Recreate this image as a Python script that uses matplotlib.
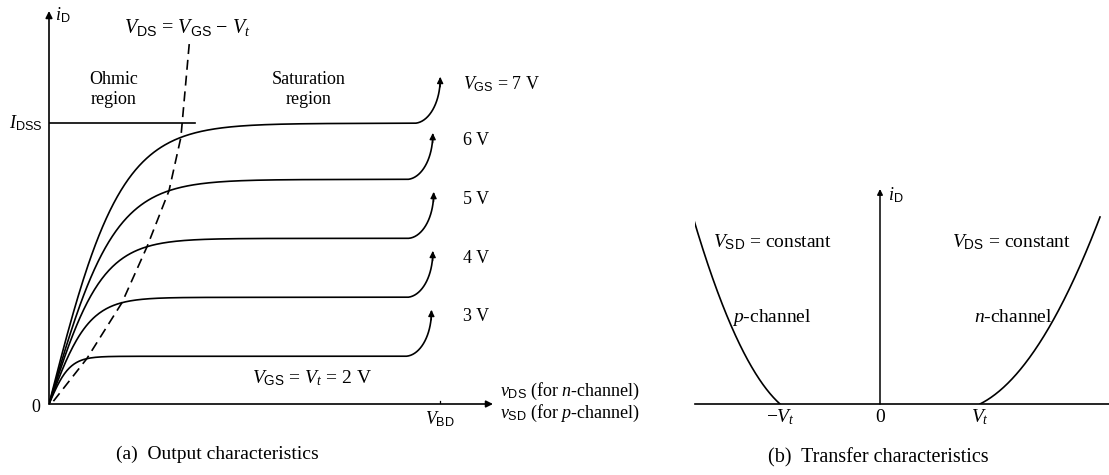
import numpy as np
import matplotlib
matplotlib.use("Agg")
import matplotlib.pyplot as plt

plt.rcParams['font.family'] = ['Liberation Serif', 'DejaVu Serif']
plt.rcParams['mathtext.fontset'] = 'custom'
plt.rcParams['mathtext.rm'] = 'Liberation Serif'
plt.rcParams['mathtext.it'] = 'Liberation Serif:italic'
plt.rcParams['mathtext.sf'] = 'Liberation Sans'

# output characteristics (i_D relative to I_DSS, v_DS in arbitrary units)
vgs = [3, 4, 5, 6, 7]
i_sat = [0.17, 0.38, 0.59, 0.80, 1.00]
v_pinch = [0.86, 1.66, 2.23, 2.73, 3.00]     # where each curve meets the dashed locus
v_tip = [8.70, 8.73, 8.75, 8.73, 8.90]        # end of the breakdown upturn
bd_rise = 0.16
bd_width = 0.6
v_bd = 8.9
locus_top = (3.2, 1.30)

# transfer characteristics
vt = 1.0
n_span, p_span = 1.2, 0.87     # how far past threshold each curve is drawn
i_top = 1.87
n_lin, p_lin = 0.5, 0.9        # slope at threshold

fs = 13
fl = 14
fig = plt.figure(figsize=(11.09, 4.75), dpi=100)

# ---------------- (a) output characteristics ----------------
ax = fig.add_axes([49 / 1109, 71 / 475, 444 / 1109, 393 / 475])
ax.set_xlim(0, 10.1)
ax.set_ylim(0, 1.4)
ax.axis('off')

arrow = dict(arrowstyle='-|>', color='k', lw=1.2, mutation_scale=10, shrinkA=0, shrinkB=0)
ax.annotate('', xy=(1, 0), xytext=(0, 0), xycoords='axes fraction', arrowprops=arrow)
ax.annotate('', xy=(0, 1), xytext=(0, 0), xycoords='axes fraction', arrowprops=arrow)

locus_x = [0.1]
locus_y = [0.01]
for k in range(len(vgs)):
    isat = i_sat[k]
    tau = v_pinch[k] / 1.83
    v0 = v_tip[k] - bd_width
    v = np.linspace(0, v0, 300)
    i = isat * np.tanh(v / tau)
    th = np.linspace(0, np.pi / 2, 60)
    vu = v0 + bd_width * np.sin(th)
    iu = isat * np.tanh(vu / tau) + bd_rise * (1 - np.cos(th))
    ax.plot(np.r_[v, vu], np.r_[i, iu], color='k', lw=1.2, solid_capstyle='round')
    ax.annotate('', xy=(vu[-1], iu[-1] + 0.005), xytext=(vu[-1] - 0.003, iu[-1] - 0.03),
                arrowprops=dict(arrowstyle='-|>', color='k', lw=1.0, mutation_scale=9,
                                shrinkA=0, shrinkB=0))
    locus_x.append(v_pinch[k])
    locus_y.append(isat * np.tanh(1.83))
    label = '$V_{\\mathsf{GS}}$ = %d V' % vgs[k] if k == len(vgs) - 1 else '%d V' % vgs[k]
    ax.text(9.41, isat + bd_rise - 0.02, label, fontsize=fs, va='center', ha='left')

locus_x.append(locus_top[0])
locus_y.append(locus_top[1])
ax.plot(locus_x, locus_y, color='k', lw=1.2, ls=(0, (6, 3.5)))

ax.plot([0, 3.32], [1.0, 1.0], color='k', lw=1.2)
ax.plot([v_bd, v_bd], [0, 0.012], color='k', lw=0.9)

ax.text(0.14, 1.384, '$i_{\\mathsf{D}}$', fontsize=fs, va='center', ha='left')
ax.text(-0.16, 1.0, '$I_{\\mathsf{DSS}}$', fontsize=fs, va='center', ha='right')
ax.text(3.14, 1.342, '$V_{\\mathsf{DS}}$ = $V_{\\mathsf{GS}}$ $-$ $V_t$', fontsize=fl + 0.5,
        va='center', ha='center')
ax.text(1.48, 1.12, 'Ohmic\nregion', fontsize=fs, va='center', ha='center', linespacing=1.2)
ax.text(5.9, 1.12, 'Saturation\nregion', fontsize=fs, va='center', ha='center',
        linespacing=1.2)
ax.text(5.98, 0.093, '$V_{\\mathsf{GS}}$ = $V_t$ = 2 V', fontsize=fl, va='center', ha='center')
ax.text(-0.3, -0.014, '0', fontsize=fs, va='center', ha='center')
ax.text(10.25, 0.043, '$v_{\\mathsf{DS}}$ (for $n$-channel)', fontsize=fs, va='center',
        ha='left')
ax.text(10.25, -0.032, '$v_{\\mathsf{SD}}$ (for $p$-channel)', fontsize=fs, va='center',
        ha='left')
ax.text(v_bd, -0.053, '$V_{\\mathsf{BD}}$', fontsize=fs, va='center', ha='center')
ax.text(3.84, -0.18, '(a)  Output characteristics', fontsize=fl, va='center', ha='center')

# ---------------- (b) transfer characteristics ----------------
bx = fig.add_axes([695 / 1109, 71 / 475, 414 / 1109, 215 / 475])
bx.set_xlim(-1.85, 2.29)
bx.set_ylim(0, 2.15)
bx.axis('off')

bx.plot([-1.85, 2.29], [0, 0], color='k', lw=1.2, clip_on=False)
bx.annotate('', xy=(0, 2.15), xytext=(0, 0), arrowprops=dict(arrowstyle='-|>', color='k',
            lw=1.1, mutation_scale=8, shrinkA=0, shrinkB=0))

dn = np.linspace(0, n_span, 200)
bx.plot(vt + dn, n_lin * dn + (i_top - n_lin * n_span) / n_span ** 2 * dn ** 2,
        color='k', lw=1.2)
dp = np.linspace(0, p_span, 200)
bx.plot(-vt - dp, p_lin * dp + (i_top - p_lin * p_span) / p_span ** 2 * dp ** 2,
        color='k', lw=1.2)

bx.text(0.08, 2.09, '$i_{\\mathsf{D}}$', fontsize=fs, va='center', ha='left')
bx.text(-1.67, 1.62, '$V_{\\mathsf{SD}}$ = constant', fontsize=fl, va='center', ha='left')
bx.text(0.72, 1.62, '$V_{\\mathsf{DS}}$ = constant', fontsize=fl, va='center', ha='left')
bx.text(-1.08, 0.86, '$p$-channel', fontsize=fl, va='center', ha='center')
bx.text(1.33, 0.86, '$n$-channel', fontsize=fl, va='center', ha='center')
bx.text(-vt, -0.13, '$-V_t$', fontsize=fl, va='center', ha='center')
bx.text(0, -0.13, '0', fontsize=fl, va='center', ha='center')
bx.text(vt, -0.13, '$V_t$', fontsize=fl, va='center', ha='center')
bx.text(-0.02, -0.54, '(b)  Transfer characteristics', fontsize=fl + 0.5, va='center',
        ha='center')

fig.savefig('out.png', dpi=100, facecolor='white')
